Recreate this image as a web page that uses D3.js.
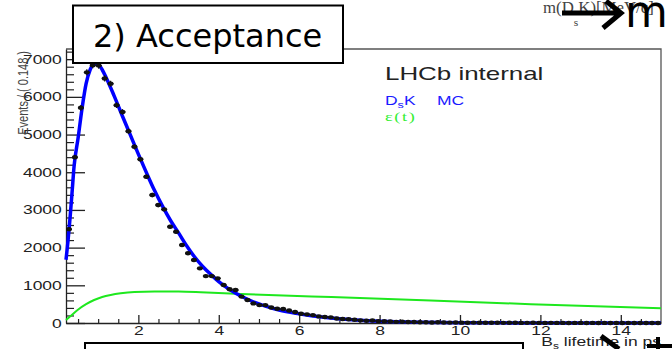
<!DOCTYPE html>
<html>
<head>
<meta charset="utf-8">
<script src="https://cdn.jsdelivr.net/npm/d3@7"></script>
<style>
  body { margin: 0; background: #fff; }
  svg { display: block; }
</style>
</head>
<body>
<script>
// MC data, 100 bins of 0.148 ps from 0.2 to 15 ps
const binStart = 0.2;
const binWidth = 0.148;
const binCounts = [
  2490, 4400, 5710, 6650, 6840, 6830, 6490, 6350, 5780, 5600,
  5090, 4675, 4345, 3880, 3395, 3130, 3015, 2555, 2420, 2070,
  1850, 1670, 1450, 1245, 1245, 1185, 1010, 895, 875, 700,
  610, 520, 475, 475, 410, 380, 370, 330, 290, 245,
  230, 210, 175, 160, 150, 120, 105, 100, 85, 70,
  60, 65, 50, 45, 40, 30, 35, 25, 25, 20,
  18, 15, 20, 12, 10, 14, 9, 8, 10, 6,
  7, 5, 8, 4, 5, 6, 3, 4, 5, 2,
  3, 4, 2, 3, 1, 2, 3, 1, 2, 1,
  2, 1, 0, 1, 2, 1, 0, 1, 1, 0
];

// fitted pdf (blue)
const fitT = [0.2, 0.25, 0.3, 0.35, 0.4, 0.5, 0.6, 0.7, 0.8, 0.9, 1.0, 1.1, 1.2, 1.4, 1.6, 1.8, 2.0,
  2.2, 2.4, 2.6, 2.8, 3.0, 3.2, 3.4, 3.6, 3.8, 4.0, 4.2, 4.4, 4.6, 4.8, 5.0, 5.2, 5.5,
  6.0, 6.5, 7.0, 7.5, 8, 9, 10, 11, 12, 13, 15];
const fitY = [1680, 2180, 2780, 3450, 4150, 4900, 5700, 6350, 6720, 6880, 6860, 6720, 6510, 6020, 5500, 4990, 4480,
  3990, 3520, 3100, 2720, 2390, 2050, 1750, 1500, 1290, 1100, 940, 805, 690, 590, 505, 435, 345,
  245, 165, 110, 72, 47, 20, 8, 3.5, 1.5, 0.7, 0.2];

// acceptance eps(t) (green, arbitrary scale)
const accT = [0.2, 0.3, 0.48, 0.7, 0.9, 1.1, 1.31, 1.56, 1.9, 2.4, 3.0, 3.55, 4.55, 5.6, 6.8, 9.27, 11.76, 15];
const accY = [80, 170, 340, 500, 610, 690, 745, 790, 825, 838, 835, 818, 772, 730, 690, 600, 500, 392];

const xTicks = [2, 4, 6, 8, 10, 12, 14];
const yTicks = [0, 1000, 2000, 3000, 4000, 5000, 6000, 7000];

const W = 672, H = 349;
const font = "'Liberation Sans', Arial, Helvetica, sans-serif";
const sx = 1.4; // picture is stretched horizontally

const svg = d3.select("body").append("svg")
  .attr("width", W)
  .attr("height", H);

const x = d3.scaleLinear().domain([0.2, 15]).range([66, 661]);
const y = d3.scaleLinear().domain([0, 7270]).range([323, 49]);

// frame (top and right)
svg.append("path")
  .attr("d", `M${x(0.2)},${y(7270)}H${x(15)}V${y(0)}`)
  .attr("fill", "none")
  .attr("stroke", "#555")
  .attr("stroke-width", 1.3);

// minor ticks
svg.append("g")
  .attr("transform", `translate(0,${y(0)})`)
  .call(d3.axisBottom(x).tickValues(d3.range(0.5, 15, 0.5).filter(v => v % 2 !== 0))
    .tickSize(-4).tickSizeOuter(0).tickFormat(""))
  .call(g => g.select(".domain").remove())
  .call(g => g.selectAll("line").attr("stroke", "#222").attr("stroke-width", 1.2));

svg.append("g")
  .attr("transform", `translate(${x(0.2)},0)`)
  .call(d3.axisLeft(y).tickValues(d3.range(200, 7270, 200).filter(v => v % 1000 !== 0))
    .tickSize(-8).tickSizeOuter(0).tickFormat(""))
  .call(g => g.select(".domain").remove())
  .call(g => g.selectAll("line").attr("stroke", "#222").attr("stroke-width", 1.2));

// major axes
const xAxis = svg.append("g")
  .attr("transform", `translate(0,${y(0)})`)
  .call(d3.axisBottom(x).tickValues(xTicks).tickSize(-8).tickSizeOuter(0).tickPadding(3)
    .tickFormat(d3.format("d")));
const yAxis = svg.append("g")
  .attr("transform", `translate(${x(0.2)},0)`)
  .call(d3.axisLeft(y).tickValues(yTicks).tickSize(-19).tickSizeOuter(0).tickPadding(3)
    .tickFormat(d3.format("d")));

[xAxis, yAxis].forEach(a => {
  a.select(".domain").attr("stroke", "#222").attr("stroke-width", 1.3);
  a.selectAll("line").attr("stroke", "#222").attr("stroke-width", 1.3);
  a.selectAll("text")
    .attr("font-family", font)
    .attr("font-size", 12.5)
    .attr("fill", "#222")
    .attr("transform", `scale(${sx},1)`);
});

// helper for horizontally stretched text
function label(px, py, anchor, size, color, family) {
  return svg.append("g")
    .attr("transform", `translate(${px},${py}) scale(${sx},1)`)
    .append("text")
    .attr("text-anchor", anchor)
    .attr("font-family", family || font)
    .attr("font-size", size)
    .attr("fill", color);
}

// axis titles
svg.append("g")
  .attr("transform", "translate(28,51) rotate(-90) scale(1,1.4)")
  .append("text")
  .attr("text-anchor", "end")
  .attr("font-family", font)
  .attr("font-size", 11)
  .attr("fill", "#444")
  .text("Events / ( 0.148 )");

const xt = label(661, 346, "end", 12.5, "#222");
xt.append("tspan").text("B");
xt.append("tspan").attr("font-size", 8.5).attr("dy", 2.5).text("s");
xt.append("tspan").attr("dy", -2.5).text(" lifetime in ps");

// curves
const lineFit = d3.line()
  .x((d, i) => x(fitT[i]))
  .y(d => y(d))
  .curve(d3.curveMonotoneX);
const lineAcc = d3.line()
  .x((d, i) => x(accT[i]))
  .y(d => y(d))
  .curve(d3.curveMonotoneX);

svg.append("path")
  .attr("d", lineAcc(accY))
  .attr("fill", "none")
  .attr("stroke", "#1ee81e")
  .attr("stroke-width", 2);

svg.append("path")
  .attr("d", lineFit(fitY))
  .attr("fill", "none")
  .attr("stroke", "#0000ff")
  .attr("stroke-width", 3.5)
  .attr("stroke-linejoin", "round");

// data points with error bars
const pts = svg.append("g");
binCounts.forEach((n, i) => {
  const lo = binStart + i * binWidth;
  const c = lo + binWidth / 2;
  const e = Math.sqrt(n);
  pts.append("line")
    .attr("x1", x(lo)).attr("x2", x(lo + binWidth))
    .attr("y1", y(n)).attr("y2", y(n))
    .attr("stroke", "#111").attr("stroke-width", 1.2);
  pts.append("line")
    .attr("x1", x(c)).attr("x2", x(c))
    .attr("y1", y(n + e)).attr("y2", y(Math.max(n - e, 0)))
    .attr("stroke", "#111").attr("stroke-width", 1.2);
  pts.append("ellipse")
    .attr("cx", x(c)).attr("cy", y(n))
    .attr("rx", 2.9).attr("ry", 2.2)
    .attr("fill", "#111");
});

// legend texts
label(385, 80, "start", 18.5, "#222").text("LHCb internal");
const ds = label(385, 105, "start", 12.5, "#1a1aff");
ds.append("tspan").text("D");
ds.append("tspan").attr("font-size", 9).attr("dy", 3).text("s");
ds.append("tspan").attr("dy", -3).text("K");
label(437, 105, "start", 12.5, "#1a1aff").text("MC");
label(385, 121, "start", 13, "#33ee33", "'Liberation Serif', serif")
  .attr("letter-spacing", 1.2).text("ε(t)");

// slide overlays
svg.append("rect")
  .attr("x", 73).attr("y", 5.5).attr("width", 270).attr("height", 57.5)
  .attr("fill", "#fff").attr("stroke", "#000").attr("stroke-width", 2);
svg.append("text")
  .attr("x", 93).attr("y", 47)
  .attr("font-family", "'DejaVu Sans', Verdana, sans-serif")
  .attr("font-size", 32)
  .attr("fill", "#000")
  .text("2) Acceptance");

const mt = svg.append("g")
  .attr("transform", "translate(543,13) scale(1.05,1)")
  .append("text")
  .attr("font-family", "'Liberation Serif', 'Times New Roman', serif")
  .attr("font-size", 16)
  .attr("fill", "#444");
mt.append("tspan").text("m(D");
mt.append("tspan").attr("font-size", 11).attr("dy", 13).text("s");
mt.append("tspan").attr("dy", -13).text("K)[MeV/c]");

svg.append("path")
  .attr("d", "M562,13H620M606,1L621,13L603,28")
  .attr("fill", "none").attr("stroke", "#000").attr("stroke-width", 5);
svg.append("text")
  .attr("x", 625).attr("y", 27)
  .attr("font-family", "'DejaVu Sans', Verdana, sans-serif")
  .attr("font-size", 44)
  .attr("fill", "#000")
  .text("m");

svg.append("rect")
  .attr("x", 85).attr("y", 343).attr("width", 438).attr("height", 20)
  .attr("fill", "#fff").attr("stroke", "#000").attr("stroke-width", 2);
svg.append("path")
  .attr("d", "M601,336L619,349")
  .attr("stroke", "#000").attr("stroke-width", 5);
svg.append("path")
  .attr("d", "M658,337V349M647,346H672")
  .attr("stroke", "#000").attr("stroke-width", 4);
</script>
</body>
</html>
